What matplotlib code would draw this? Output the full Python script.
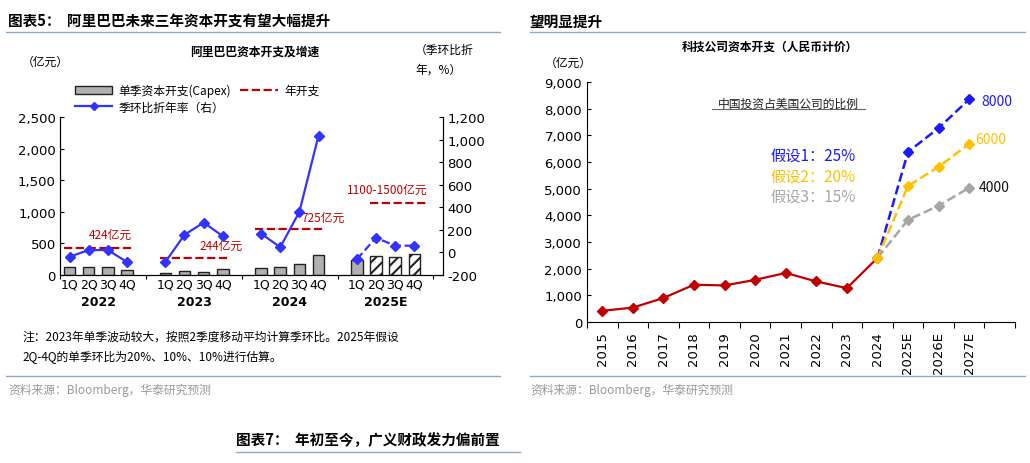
import matplotlib.pyplot as plt
from matplotlib.patches import Patch
from matplotlib.lines import Line2D

plt.rcParams['font.family'] = ['Noto Sans CJK SC', 'DejaVu Sans']
plt.rcParams['hatch.linewidth'] = 1.5

# ---- left chart data ----
quarters = ["1Q", "2Q", "3Q", "4Q"]
years_l = ["2022", "2023", "2024", "2025E"]
capex_q = [[120, 120, 120, 75], [35, 70, 50, 90], [115, 120, 175, 315], [245, 300, 280, 330]]
qoq_ann = [[-38, 21, 21, -85], [-85, 156, 265, 144], [167, 46, 360, 1035], [-60, 130, 60, 60]]
annual = [424, 265, 725, 1140]
annual_lbl = ["424亿元", "244亿元", "725亿元", "1100-1500亿元"]

# ---- right chart data ----
years_r = ["2015", "2016", "2017", "2018", "2019", "2020", "2021", "2022", "2023", "2024", "2025E", "2026E", "2027E"]
hist = [420, 540, 900, 1400, 1370, 1580, 1840, 1520, 1270, 2400]
s1 = [2400, 6380, 7270, 8350]
s2 = [2400, 5100, 5820, 6680]
s3 = [2400, 3830, 4360, 5030]

W, H = 1030, 464
fig = plt.figure(figsize=(W / 100, H / 100), dpi=100)


def rect(x0, y0, x1, y1):
    return [x0 / W, 1 - y1 / H, (x1 - x0) / W, (y1 - y0) / H]


def ft(x, y, s, **kw):
    fig.text(x / W, 1 - y / H, s, **kw)


# headers / footers
ft(8, 22, "图表5：  阿里巴巴未来三年资本开支有望大幅提升", fontsize=10.5, weight='bold', va='center')
ft(530, 22, "望明显提升", fontsize=10.5, weight='bold', va='center')
fig.add_artist(Line2D([6 / W, 500 / W], [1 - 33 / H] * 2, color='#8fa8c8', lw=1))
fig.add_artist(Line2D([530 / W, 1025 / W], [1 - 33 / H] * 2, color='#8fa8c8', lw=1))
fig.add_artist(Line2D([6 / W, 500 / W], [1 - 377 / H] * 2, color='#8fa8c8', lw=1))
fig.add_artist(Line2D([530 / W, 1025 / W], [1 - 377 / H] * 2, color='#8fa8c8', lw=1))
ft(8, 390, "资料来源：Bloomberg，华泰研究预测", fontsize=8.5, color='#999999', va='center')
ft(530, 390, "资料来源：Bloomberg，华泰研究预测", fontsize=8.5, color='#999999', va='center')
ft(236, 440, "图表7：  年初至今，广义财政发力偏前置", fontsize=10.5, weight='bold', va='center')
fig.add_artist(Line2D([236 / W, 520 / W], [1 - 453 / H] * 2, color='#8fa8c8', lw=1))
ft(22, 337, "注：2023年单季波动较大，按照2季度移动平均计算季环比。2025年假设", fontsize=8.5, va='center')
ft(22, 357, "2Q-4Q的单季环比为20%、10%、10%进行估算。", fontsize=8.5, va='center')

# ---- left chart ----
ft(255, 52, "阿里巴巴资本开支及增速", fontsize=8.5, weight='bold', ha='center', va='center')
ft(22, 62, "（亿元）", fontsize=8.5, va='center')
ft(415, 50, "（季环比折", fontsize=8.5, va='center')
ft(415, 70, "年，%）", fontsize=8.5, va='center')

ax = fig.add_axes(rect(60, 118, 443, 276))
ax2 = ax.twinx()
xs, labels = [], []
for g in range(4):
    pos = [g * 5 + i for i in range(4)]
    for i, p in enumerate(pos):
        hatch = '///' if (g == 3 and i > 0) else None
        ax.bar(p, capex_q[g][i], width=0.6, color='#b0b0b0' if hatch is None else 'white',
               edgecolor='#222222', lw=1, hatch=hatch)
        xs.append(p)
        labels.append(quarters[i])
    ax.plot([pos[0] - 0.3, pos[3] + 0.3] if g < 3 else [pos[1] - 0.3, pos[3] + 0.6],
            [annual[g]] * 2, ls='--', color='#c00000', lw=1.6)
    ls = '-' if g < 3 else '--'
    ax2.plot(pos, qoq_ann[g], ls=ls, color='#3333ff', lw=1.6, marker='D', ms=5)
lbl_pos = [(1.0, 650), (6.8, 475), (12.1, 920), (14.5, 1360)]
for (lx, ly), s in zip(lbl_pos, annual_lbl):
    ax.text(lx, ly, s, color='#c00000', fontsize=8.5, va='center')
ax.set_xlim(-0.5, 19.5)
ax.set_ylim(0, 2500)
ax.set_yticks(range(0, 2501, 500))
ax.set_yticklabels(["0", "500", "1,000", "1,500", "2,000", "2,500"], family='DejaVu Sans', fontsize=9.5)
ax.set_xticks([-0.5, 4, 9, 14, 19])
ax.set_xticklabels([])
for p, l in zip(xs, labels):
    ax.text(p, -150, l, ha='center', va='center', fontsize=9, family='DejaVu Sans')
for g, y in enumerate(years_l):
    ax.text(g * 5 + 1.5, -420, y, ha='center', va='center', fontsize=9, weight='bold', family='DejaVu Sans')
ax2.set_ylim(-200, 1200)
ax2.set_yticks(range(-200, 1201, 200))
ax2.set_yticklabels(["-200", "0", "200", "400", "600", "800", "1,000", "1,200"], family='DejaVu Sans', fontsize=9.5)
for a in (ax, ax2):
    a.spines['top'].set_visible(False)
    a.tick_params(direction='in', length=3, pad=3)
ax.tick_params(axis='x', direction='out')
ax.spines['right'].set_color('#333333')

handles = [Patch(facecolor='#b0b0b0', edgecolor='#222222'),
           Line2D([], [], color='#3333ff', lw=1.6, marker='D', ms=4),
           Line2D([], [], ls='--', color='#c00000', lw=1.6)]
fig.legend(handles, ["单季资本开支(Capex)", "季环比折年率（右）", "年开支"], ncol=2,
           loc='upper left', bbox_to_anchor=(64 / W, 1 - 74 / H), frameon=False,
           fontsize=8.5, handlelength=3.2, columnspacing=0.8, labelspacing=0.3, handletextpad=0.5)

# ---- right chart ----
ft(770, 47, "科技公司资本开支（人民币计价）", fontsize=8.5, weight='bold', ha='center', va='center')
ft(545, 63, "（亿元）", fontsize=8.5, va='center')
bx = fig.add_axes(rect(587, 83, 1015, 323))
xr = list(range(len(years_r)))
bx.plot(xr[:10], hist, color='#c00000', lw=1.6, marker='D', ms=5)
bx.plot(xr[9:], s1, ls='--', color='#1a1aff', lw=1.8, marker='D', ms=5)
bx.plot(xr[9:], s2, ls='--', color='#ffc000', lw=1.8, marker='D', ms=5)
bx.plot(xr[9:], s3, ls='--', color='#a6a6a6', lw=1.8, marker='D', ms=5)
bx.plot(xr[9], hist[-1], marker='D', ms=5, color='#ffc000')
bx.text(12.4, 8300, "8000", color='#1a1aff', fontsize=10, va='center')
bx.text(12.2, 6860, "6000", color='#ffc000', fontsize=10, va='center')
bx.text(12.3, 5070, "4000", color='#111111', fontsize=10, va='center')
bx.text(6.9, 6260, "假设1：25%", color='#1a1aff', fontsize=11, ha='center', va='center')
bx.text(6.9, 5480, "假设2：20%", color='#ffc000', fontsize=11, ha='center', va='center')
bx.text(6.9, 4700, "假设3：15%", color='#a6a6a6', fontsize=11, ha='center', va='center')
bx.text(6.1, 8210, "中国投资占美国公司的比例", fontsize=8.5, style='italic', ha='center', va='center',
        color='#222222')
bx.plot([3.6, 8.6], [7990, 7990], color='#666666', lw=0.8)
bx.set_xlim(-0.5, 13.5)
bx.set_ylim(0, 9000)
bx.set_yticks(range(0, 9001, 1000))
bx.set_yticklabels([f"{v:,}" for v in range(0, 9001, 1000)], family='DejaVu Sans', fontsize=9.5)
bx.set_xticks([x - 0.5 for x in range(15)], minor=False)
bx.set_xticklabels([])
for x, l in zip(xr, years_r):
    bx.text(x, -350, l, rotation=90, ha='center', va='top', fontsize=9.5, family='DejaVu Sans')
for s in ('top', 'right'):
    bx.spines[s].set_visible(False)
bx.tick_params(axis='y', direction='in', length=3)
bx.tick_params(axis='x', direction='out', length=4)

fig.savefig("out.png", dpi=100)
